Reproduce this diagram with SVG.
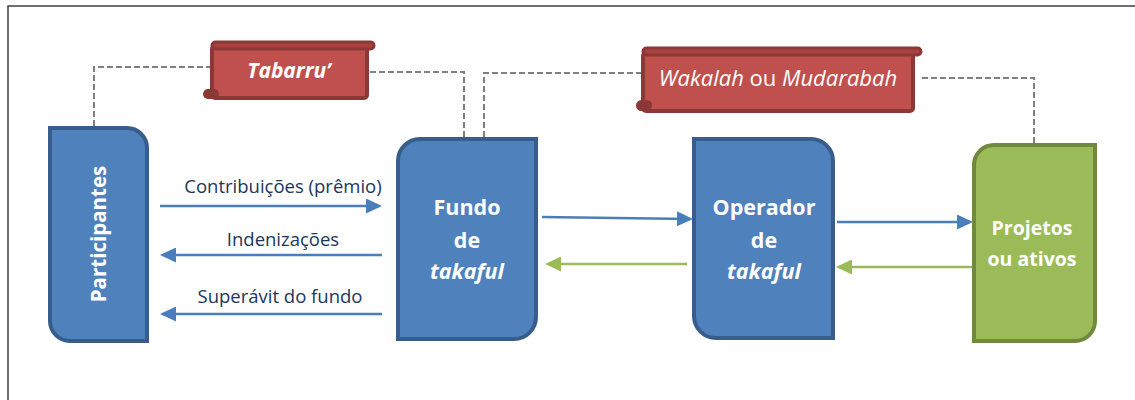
<svg xmlns="http://www.w3.org/2000/svg" width="1135" height="400" viewBox="0 0 1135 400">
  <style>
    .frame { fill: none; stroke: #404040; stroke-width: 1.5; }
    .blue { fill: #4F81BD; stroke: #385D8A; stroke-width: 4; }
    .green { fill: #9BBB59; stroke: #71893F; stroke-width: 4; }
    .scroll { fill: #C0504D; stroke: #8C3836; stroke-width: 4; }
    .roll { fill: #A8423F; stroke: #8C3836; stroke-width: 3; }
    .curl { fill: #8C3836; }
    .node-text { font-family: "Open Sans", "Noto Sans", sans-serif; font-weight: bold; fill: #FFFFFF; text-anchor: middle; }
    .label { font-family: "Open Sans", "Noto Sans", sans-serif; font-size: 18.5px; fill: #1B365C; text-anchor: middle; }
    .dash { fill: none; stroke: #7F7F7F; stroke-width: 2; stroke-dasharray: 6 3; }
    .flow-blue { fill: none; stroke: #4A7EBB; stroke-width: 2.5; marker-end: url(#head-blue); }
    .flow-green { fill: none; stroke: #9BBB59; stroke-width: 2.5; marker-end: url(#head-green); }
  </style>
  <defs>
    <marker id="head-blue" markerUnits="userSpaceOnUse" markerWidth="16" markerHeight="15" refX="13" refY="7.5" orient="auto">
      <path d="M0,0 L16,7.5 L0,15 Z" fill="#4A7EBB"/>
    </marker>
    <marker id="head-green" markerUnits="userSpaceOnUse" markerWidth="16" markerHeight="15" refX="13" refY="7.5" orient="auto">
      <path d="M0,0 L16,7.5 L0,15 Z" fill="#9BBB59"/>
    </marker>
  </defs>

  <rect x="0" y="0" width="1135" height="400" fill="#FFFFFF"/>
  <path class="frame" d="M8,400 V6 H1135"/>

  <!-- dashed contract links and flow arrows -->
  <g id="connectors">
    <path class="dash" d="M94,126 V67 H210"/>
    <path class="dash" d="M370,72 H464 V137"/>
    <path class="dash" d="M484,137 V73 H641"/>
    <path class="dash" d="M922,78 H1034 V143"/>

    <path class="flow-blue" d="M160,206 H379"/>
    <text class="label" x="283" y="193">Contribuições (prêmio)</text>
    <path class="flow-blue" d="M382,255 H163"/>
    <text class="label" x="283" y="246">Indenizações</text>
    <path class="flow-blue" d="M382,314 H163"/>
    <text class="label" x="280" y="303">Superávit do fundo</text>

    <path class="flow-blue" d="M542,217 L690,219"/>
    <path class="flow-green" d="M687,264 H548"/>
    <path class="flow-blue" d="M837,222 H970"/>
    <path class="flow-green" d="M972,267 H839"/>
  </g>

  <g id="tabarru">
    <rect class="scroll" x="212" y="46" width="155" height="52" rx="3"/>
    <rect class="curl" x="203" y="89" width="16" height="10" rx="5"/>
    <rect class="roll" x="212" y="42" width="162" height="7" rx="3.5"/>
    <text class="node-text" x="289" y="78" font-size="21" font-style="italic">Tabarru’</text>
  </g>

  <g id="wakalah">
    <rect class="scroll" x="643" y="53" width="270" height="58" rx="3"/>
    <rect class="curl" x="636" y="100" width="16" height="11" rx="5.5"/>
    <rect class="roll" x="643" y="48" width="278" height="7" rx="3.5"/>
    <text x="778" y="86" font-family="Open Sans, Noto Sans, sans-serif" font-size="22" fill="#FFFFFF" text-anchor="middle"><tspan font-style="italic">Wakalah</tspan> ou <tspan font-style="italic">Mudarabah</tspan></text>
  </g>

  <g id="participantes">
    <path class="blue" d="M50,128 H127 A20,20 0 0 1 147,148 V341 H70 A20,20 0 0 1 50,321 Z"/>
    <text class="node-text" font-size="20.5" transform="translate(106,234) rotate(-90)">Participantes</text>
  </g>

  <g id="fundo">
    <path class="blue" d="M420,139 H536 V317 A22,22 0 0 1 514,339 H398 V161 A22,22 0 0 1 420,139 Z"/>
    <text class="node-text" font-size="21.5" x="467" y="215">Fundo</text>
    <text class="node-text" font-size="21.5" x="467" y="248">de</text>
    <text class="node-text" font-size="21.5" x="467" y="279" font-style="italic">takaful</text>
  </g>

  <g id="operador">
    <path class="blue" d="M694,139 H811 A22,22 0 0 1 833,161 V338 H716 A22,22 0 0 1 694,316 Z"/>
    <text class="node-text" font-size="21.5" x="764" y="215">Operador</text>
    <text class="node-text" font-size="21.5" x="764" y="248">de</text>
    <text class="node-text" font-size="21.5" x="764" y="279" font-style="italic">takaful</text>
  </g>

  <g id="projetos">
    <path class="green" d="M994,145 H1095 V321 A20,20 0 0 1 1075,341 H974 V165 A20,20 0 0 1 994,145 Z"/>
    <text class="node-text" font-size="19.5" x="1032" y="235">Projetos</text>
    <text class="node-text" font-size="19.5" x="1032" y="266">ou ativos</text>
  </g>
</svg>
